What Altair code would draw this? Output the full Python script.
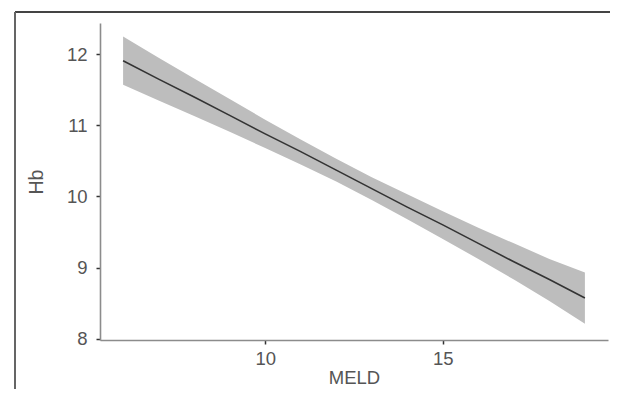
import altair as alt
import pandas as pd

# Estimated values (MELD vs Hb, linear fit with 95% CI)
meld = [6, 7, 8, 9, 10, 11, 12, 13, 14, 15, 16, 17, 18, 19]
hb_fit = [11.91, 11.65, 11.40, 11.14, 10.88, 10.63, 10.37, 10.11, 9.85, 9.60, 9.34, 9.08, 8.83, 8.57]
hb_lower = [11.57, 11.35, 11.13, 10.91, 10.68, 10.45, 10.21, 9.95, 9.68, 9.40, 9.12, 8.83, 8.53, 8.21]
hb_upper = [12.25, 11.95, 11.66, 11.37, 11.08, 10.80, 10.53, 10.27, 10.03, 9.79, 9.56, 9.34, 9.12, 8.93]

x_ticks = [10, 15]
y_ticks = [8, 9, 10, 11, 12]

df = pd.DataFrame({"MELD": meld, "fit": hb_fit, "lo": hb_lower, "hi": hb_upper})

FONT = "Liberation Sans"
x_scale = alt.Scale(domain=[5.35, 19.65], nice=False, zero=False)
y_scale = alt.Scale(domain=[7.98, 12.44], nice=False, zero=False)

x_axis = alt.Axis(
    title="MELD", values=x_ticks, format="d", grid=False, domainColor="#8c8c8c", domainWidth=1.6,
    tickColor="#333333", tickWidth=1.5, tickSize=4, labelFontSize=18.5, labelColor="#555555",
    labelFont=FONT, labelPadding=5, titleFont=FONT, titleFontSize=18.5, titleFontWeight="normal",
    titleColor="#555555", titlePadding=1,
)
y_axis = alt.Axis(
    title="Hb", values=y_ticks, format="d", grid=False, domainColor="#8c8c8c", domainWidth=1.6,
    tickColor="#333333", tickWidth=1.5, tickSize=4, labelFontSize=18.5, labelColor="#555555",
    labelFont=FONT, labelPadding=9, titleFont=FONT, titleFontSize=19.5, titleFontWeight="normal",
    titleColor="#555555", titlePadding=20,
)

band = alt.Chart(df).mark_area(color="#bdbdbd", opacity=1).encode(
    x=alt.X("MELD:Q", scale=x_scale, axis=x_axis),
    y=alt.Y("lo:Q", scale=y_scale, axis=y_axis),
    y2="hi:Q",
)
line = alt.Chart(df).mark_line(color="#333333", strokeWidth=1.6).encode(
    x=alt.X("MELD:Q", scale=x_scale),
    y=alt.Y("fit:Q", scale=y_scale),
)

# decorative figure frame (top and left edges of the cropped figure border)
frame_top = alt.Chart(df).mark_rule(color="#444444", strokeWidth=1.5).encode(
    x=alt.value(-85), x2=alt.value(620), y=alt.value(-11)
)
frame_left = alt.Chart(df).mark_rule(color="#666666", strokeWidth=1.5).encode(
    x=alt.value(-85), y=alt.value(-11), y2=alt.value(400)
)

chart = alt.layer(band, line, frame_top, frame_left).properties(
    width=508, height=317,
    autosize=alt.AutoSizeParams(type="none"),
    padding={"left": 92, "top": 15, "right": 2, "bottom": 49},
    background="white",
).configure_view(stroke=None)

chart.save("out.html", embed_options={"renderer": "svg", "actions": False})
